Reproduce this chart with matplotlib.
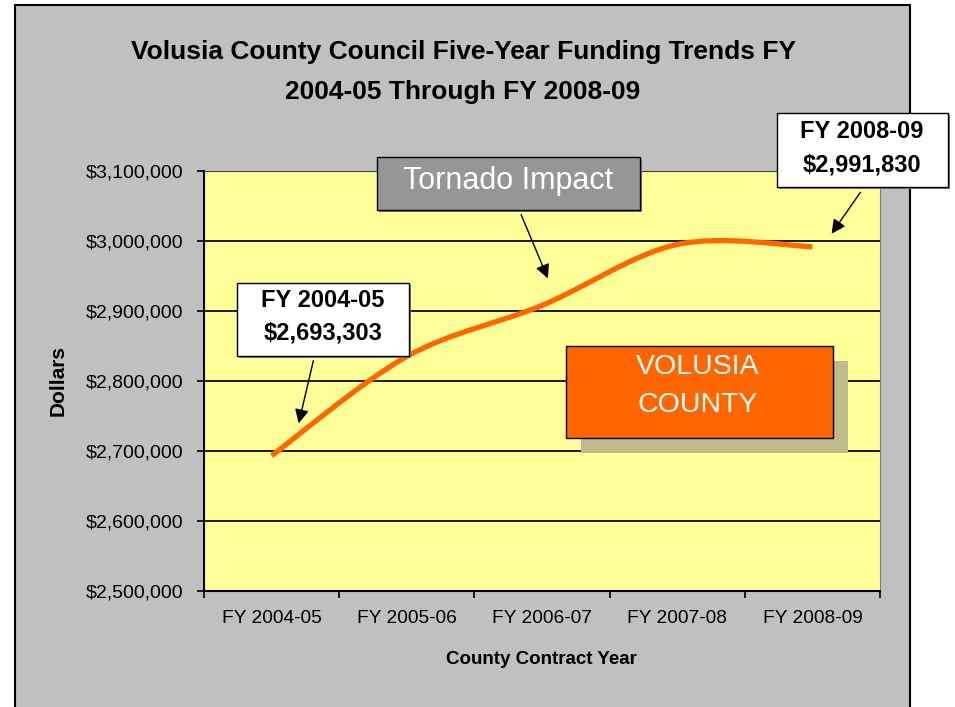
import matplotlib.pyplot as plt
from matplotlib.patches import Rectangle, PathPatch, FancyArrowPatch
from matplotlib.path import Path
from matplotlib.ticker import FuncFormatter, FixedLocator

plt.rcParams["font.family"] = ["Liberation Sans", "DejaVu Sans"]

years = ["FY 2004-05", "FY 2005-06", "FY 2006-07", "FY 2007-08", "FY 2008-09"]
funding = [2693303, 2835000, 2908000, 2995000, 2991830]
y_ticks = [2500000, 2600000, 2700000, 2800000, 2900000, 3000000, 3100000]

W, H = 955, 707
ORANGE = "#ff6600"


def px(x, y):
    # image pixel (top-left origin) -> figure fraction
    return x / W, 1 - y / H


fig = plt.figure(figsize=(W / 100, H / 100), dpi=100)
fig.patch.set_facecolor("white")

# gray chart area
x0, y0 = px(15, 760)
x1, y1 = px(910, 5)
fig.add_artist(Rectangle((x0, y0), x1 - x0, y1 - y0, transform=fig.transFigure,
                         fc="#c0c0c0", ec="black", lw=1.5, zorder=-5))

left, top = px(204, 171)
right, bottom = px(880, 591)
ax = fig.add_axes([left, bottom, right - left, top - bottom])
ax.set_facecolor("#ffff99")

# smoothed line (Excel-style bezier through the data points)
n = len(funding)
pts = list(zip(range(n), funding))
verts = [pts[0]]
codes = [Path.MOVETO]
for i in range(n - 1):
    p0 = pts[max(i - 1, 0)]
    p1 = pts[i]
    p2 = pts[i + 1]
    p3 = pts[min(i + 2, n - 1)]
    c1 = (p1[0] + (p2[0] - p0[0]) / 6, p1[1] + (p2[1] - p0[1]) / 6)
    c2 = (p2[0] - (p3[0] - p1[0]) / 6, p2[1] - (p3[1] - p1[1]) / 6)
    verts += [c1, c2, p2]
    codes += [Path.CURVE4] * 3
ax.add_patch(PathPatch(Path(verts, codes), fill=False, ec=ORANGE, lw=3.8,
                       capstyle="butt", zorder=3))

ax.set_xlim(-0.5, n - 0.5)
ax.set_ylim(y_ticks[0], y_ticks[-1])
ax.yaxis.set_major_locator(FixedLocator(y_ticks))
ax.yaxis.set_major_formatter(FuncFormatter(lambda v, p: f"${v:,.0f}"))
ax.xaxis.set_major_locator(FixedLocator([i - 0.5 for i in range(n + 1)]))
ax.xaxis.set_minor_locator(FixedLocator(range(n)))
ax.set_xticklabels([], minor=False)
ax.set_xticklabels(years, minor=True)
ax.tick_params(axis="x", which="major", direction="out", length=5, width=1.2)
ax.tick_params(axis="x", which="minor", length=0, pad=14, labelsize=13.8)
ax.tick_params(axis="y", direction="out", length=5, width=1.2, pad=10,
               labelsize=14)
ax.grid(axis="y", color="#1a1a1a", lw=1.4)
ax.set_axisbelow(True)
for s in ["left", "bottom"]:
    ax.spines[s].set_linewidth(1.5)
ax.spines["top"].set_color("#404040")
ax.spines["right"].set_color("#808080")

# titles and axis labels
fig.text(*px(463, 52), "Volusia County Council Five-Year Funding Trends FY",
         ha="center", va="center", fontsize=19, fontweight="bold")
fig.text(*px(463, 92), "2004-05 Through FY 2008-09",
         ha="center", va="center", fontsize=19, fontweight="bold")
fig.text(*px(58, 380), "Dollars", rotation=90, ha="center", va="center",
         fontsize=15, fontweight="bold")
fig.text(*px(541, 659), "County Contract Year", ha="center", va="center",
         fontsize=13.5, fontweight="bold")


def box(xa, ya, xb, yb, fc, shadow=2, shadow_color="#808080"):
    bx0, by0 = px(xa + shadow, yb + shadow)
    bx1, by1 = px(xb + shadow, ya + shadow)
    if shadow:
        fig.add_artist(Rectangle((bx0, by0), bx1 - bx0, by1 - by0,
                                 transform=fig.transFigure, fc=shadow_color,
                                 ec="none", zorder=4))
    bx0, by0 = px(xa, yb)
    bx1, by1 = px(xb, ya)
    fig.add_artist(Rectangle((bx0, by0), bx1 - bx0, by1 - by0,
                             transform=fig.transFigure, fc=fc, ec="black",
                             lw=1, zorder=5))


def arrow(xa, ya, xb, yb):
    fig.add_artist(FancyArrowPatch(px(xa, ya), px(xb, yb),
                                   transform=fig.transFigure,
                                   arrowstyle="-|>", mutation_scale=21,
                                   color="black", lw=1, zorder=6))


# Tornado Impact
box(377, 157, 640, 210, "#969696")
fig.text(*px(508, 181), "Tornado Impact", ha="center", va="center",
         fontsize=22, color="white", zorder=7)
arrow(520, 212, 549, 281)

# first value
box(237, 283, 409, 356, "white")
fig.text(*px(323, 301), "FY 2004-05", ha="center", va="center",
         fontsize=17, fontweight="bold", zorder=7)
fig.text(*px(323, 333), "$2,693,303", ha="center", va="center",
         fontsize=17, fontweight="bold", zorder=7)
arrow(314, 358, 298, 426)

# last value
box(777, 113, 948, 187, "white")
fig.text(*px(862, 131), "FY 2008-09", ha="center", va="center",
         fontsize=17, fontweight="bold", zorder=7)
fig.text(*px(862, 165), "$2,991,830", ha="center", va="center",
         fontsize=17, fontweight="bold", zorder=7)
arrow(862, 190, 830, 236)

# VOLUSIA COUNTY label
box(566, 346, 833, 438, ORANGE, shadow=15, shadow_color="#bdbb8c")
fig.text(*px(698, 367), "VOLUSIA", ha="center", va="center",
         fontsize=20.5, color="white", zorder=7)
fig.text(*px(698, 405), "COUNTY", ha="center", va="center",
         fontsize=20.5, color="white", zorder=7)

fig.savefig("out.png", dpi=100)
